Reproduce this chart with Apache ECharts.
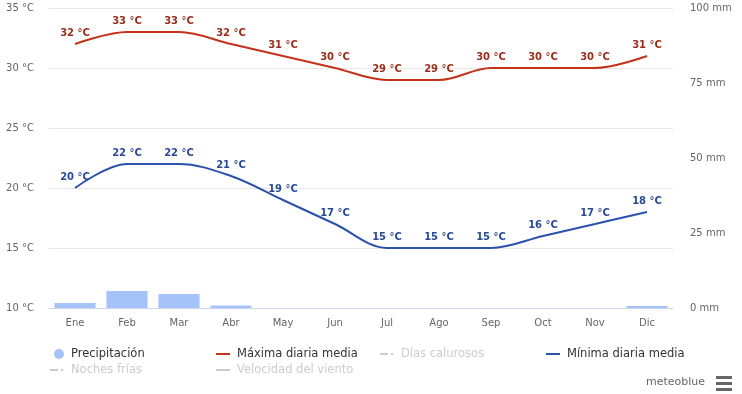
<!DOCTYPE html>
<html>
<head>
<meta charset="utf-8">
<script src="https://cdn.jsdelivr.net/npm/echarts@6/dist/echarts.min.js"></script>
<style>
html,body{margin:0;padding:0;background:#fff;}
#c{width:742px;height:394px;}
</style>
</head>
<body>
<div id="c"></div>
<script>
const months = ['Ene','Feb','Mar','Abr','May','Jun','Jul','Ago','Sep','Oct','Nov','Dic'];
const precipitation = [1.7, 5.7, 4.7, 0.8, 0, 0, 0, 0, 0, 0, 0, 0.7];
const tempMax = [32, 33, 33, 32, 31, 30, 29, 29, 30, 30, 30, 31];
const tempMin = [20, 22, 22, 21, 19, 17, 15, 15, 15, 16, 17, 18];
const tempTicks = {min: 10, max: 35, interval: 5};
const rainTicks = {min: 0, max: 100, interval: 25};

const FONT = 'DejaVu Sans';
const chart = echarts.init(document.getElementById('c'), null, {renderer: 'canvas'});

function legendBox(name, left, top, icon, w, h, on) {
  return {
    data: [name], left: left, top: top, padding: 0, icon: icon,
    itemWidth: w, itemHeight: h, itemGap: 0,
    inactiveColor: '#cccccc',
    selected: {[name]: on},
    textStyle: {fontFamily: FONT, fontSize: 11.5, color: '#333', padding: [0, 0, 0, 2]}
  };
}

function lineLabel(color) {
  return {show: true, position: 'top', distance: 6, formatter: '{c} °C',
    color: color, fontFamily: FONT, fontSize: 10, fontWeight: 'bold'};
}

const option = {
  animation: false,
  backgroundColor: '#ffffff',
  grid: {left: 49, right: 69, top: 8, bottom: 86, containLabel: false},
  xAxis: {
    type: 'category', data: months, boundaryGap: true,
    axisLine: {lineStyle: {color: '#ccd6eb'}},
    axisTick: {show: false},
    axisLabel: {color: '#666', fontFamily: FONT, fontSize: 10, margin: 10}
  },
  yAxis: [
    {
      type: 'value', min: tempTicks.min, max: tempTicks.max, interval: tempTicks.interval,
      axisLine: {show: false}, axisTick: {show: false},
      axisLabel: {formatter: '{value} °C', color: '#666', fontFamily: FONT, fontSize: 10, margin: 15},
      splitLine: {lineStyle: {color: '#e6e6e6'}}
    },
    {
      type: 'value', min: rainTicks.min, max: rainTicks.max, interval: rainTicks.interval,
      position: 'right',
      axisLine: {show: false}, axisTick: {show: false},
      axisLabel: {formatter: '{value} mm', color: '#666', fontFamily: FONT, fontSize: 10, margin: 17},
      splitLine: {show: false}
    }
  ],
  legend: [
    legendBox('Precipitación', 54, 348, 'circle', 10, 10, true),
    legendBox('Máxima diaria media', 216, 348, 'rect', 14, 2, true),
    legendBox('Días calurosos', 380, 348, 'path://M0,0h8v2h-8z M11,0h2v2h-2z', 15, 2, false),
    legendBox('Mínima diaria media', 546, 348, 'rect', 14, 2, true),
    legendBox('Noches frías', 50, 364, 'path://M0,0h8v2h-8z M11,0h2v2h-2z', 15, 2, false),
    legendBox('Velocidad del viento', 216, 364, 'rect', 14, 2, false)
  ],
  series: [
    {
      name: 'Precipitación', type: 'bar', yAxisIndex: 1, data: precipitation,
      barWidth: '79%', itemStyle: {color: '#a6c3f9'}, z: 1
    },
    {
      name: 'Máxima diaria media', type: 'line', yAxisIndex: 0, data: tempMax,
      smooth: 0.35, symbol: 'circle', symbolSize: 0.01, showSymbol: true,
      lineStyle: {color: '#c4321a', width: 2}, itemStyle: {color: '#c4321a'},
      label: lineLabel('#9a2e1a'),
      z: 3
    },
    {
      name: 'Mínima diaria media', type: 'line', yAxisIndex: 0, data: tempMin,
      smooth: 0.35, symbol: 'circle', symbolSize: 0.01, showSymbol: true,
      lineStyle: {color: '#2a51ac', width: 2}, itemStyle: {color: '#2a51ac'},
      label: lineLabel('#2a4a98'),
      z: 3
    },
    {name: 'Días calurosos', type: 'line', data: [], symbol: 'none', itemStyle: {color: '#999'}},
    {name: 'Noches frías', type: 'line', data: [], symbol: 'none', itemStyle: {color: '#999'}},
    {name: 'Velocidad del viento', type: 'line', data: [], symbol: 'none', itemStyle: {color: '#999'}}
  ],
  graphic: [
    {type: 'text', left: 646, top: 377, style: {text: 'meteoblue', fill: '#666', font: '11px "DejaVu Sans"'}},
    {type: 'rect', left: 716, top: 376, shape: {width: 16, height: 3}, style: {fill: '#666'}},
    {type: 'rect', left: 716, top: 382, shape: {width: 16, height: 3}, style: {fill: '#666'}},
    {type: 'rect', left: 716, top: 388, shape: {width: 16, height: 3}, style: {fill: '#666'}}
  ]
};
chart.setOption(option);
</script>
</body>
</html>
